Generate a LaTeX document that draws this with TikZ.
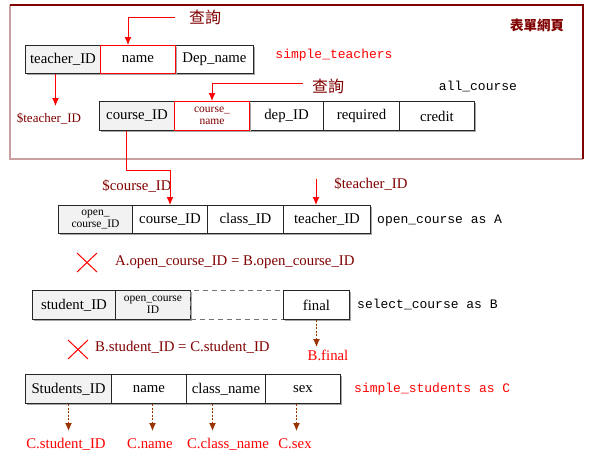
\documentclass[tikz,border=0pt]{standalone}
\usepackage{fontspec}
\setmainfont{Liberation Serif}
\newfontfamily\monof{Liberation Mono}
\newfontfamily\cjkf{Noto Sans CJK TC}
\usetikzlibrary{arrows.meta,shadows}
\definecolor{dred}{RGB}{128,0,0}
\definecolor{bred}{RGB}{255,0,0}
\definecolor{brn}{RGB}{153,51,0}
\definecolor{fpink}{RGB}{200,160,160}
\definecolor{cgray}{RGB}{242,242,242}
\begin{document}
\begin{tikzpicture}[x=1pt,y=-1pt,
  cell/.style={draw=black!85, line width=1pt, fill=white, inner sep=0pt, minimum height=28pt,
    anchor=north west, font=\fontsize{14.8}{16}\selectfont,
    drop shadow={shadow xshift=1pt,shadow yshift=-1pt,fill=black!35,opacity=1}},
  keycell/.style={cell, fill=cgray},
  redcell/.style={cell, draw=bred},
  blankcell/.style={draw=black!55, line width=1pt, dashed, dash pattern=on 5pt off 4pt, inner sep=0pt,
    minimum height=28pt, anchor=north west},
  small/.style={font=\fontsize{11.5}{11.5}\selectfont, align=center},
  lbl/.style={font=\fontsize{14.8}{16}\selectfont, text=dred, inner sep=0pt},
  rlbl/.style={font=\fontsize{14.8}{16}\selectfont, text=bred, inner sep=0pt},
  monot/.style={font=\monof\fontsize{13}{15}\selectfont, inner sep=0pt},
  cjkt/.style={font=\cjkf\fontsize{16}{18}\selectfont, text=dred, inner sep=0pt},
  rarrow/.style={draw=bred, line width=1pt, -{Latex[length=8pt,width=7pt]}},
  barrow/.style={draw=brn, line width=1pt, dash pattern=on 2pt off 1.5pt, -{Latex[length=8pt,width=7pt]}},
  xmark/.style={draw=bred, line width=1pt}
]
\useasboundingbox (0,0) rectangle (598,472);
% frame
\draw[fpink, line width=2pt] (10,5) -- (10,159) -- (583,159);
\draw[dred, line width=1.2pt] (10,5) -- (583,5) -- (583,159);

% texts in frame
\node[cjkt] (q1) at (205,17) {查詢};
\node[cjkt, font=\cjkf\bfseries\fontsize{13.5}{15}\selectfont] (form) at (537,25) {表單網頁};
\node[monot, text=bred] (stname) at (334,55) {simple\_teachers};
\node[cjkt] (q2) at (328,86) {查詢};
\node[monot] (acname) at (478,86) {all\_course};

% simple_teachers
\node[keycell, minimum width=75pt] (t-id) at (25,45) {teacher\_ID};
\node[cell, minimum width=78pt] (t-dep) at (175,45) {Dep\_name};
\node[redcell, minimum width=75pt] (t-name) at (100,45) {name};

% all_course
\node[keycell, minimum width=75pt, minimum height=29pt] (c-id) at (99,101) {course\_ID};
\node[cell, minimum width=74pt, minimum height=29pt] (c-dep) at (249,101) {dep\_ID};
\node[cell, minimum width=76pt, minimum height=29pt] (c-req) at (323,101) {required};
\node[cell, minimum width=75pt, minimum height=29pt] (c-cred) at (399,101) {credit};
\node[redcell, minimum width=75pt, minimum height=29pt, small, text=dred] (c-name) at (174,101) {course\_\\name};

% labels
\node[lbl, font=\fontsize{13}{14}\selectfont] (tl1) at (49,119) {\$teacher\_ID};
\node[lbl] (cl1) at (137,186) {\$course\_ID};
\node[lbl] (tl2) at (371,184) {\$teacher\_ID};

% open_course
\node[keycell, minimum width=74pt, small] (o-ocid) at (58,205) {open\_\\course\_ID};
\node[cell, minimum width=75pt] (o-cid) at (132,205) {course\_ID};
\node[cell, minimum width=76pt] (o-clid) at (207,205) {class\_ID};
\node[cell, minimum width=87pt] (o-tid) at (283,205) {teacher\_ID};
\node[monot, anchor=west] (ocname) at (377,221) {open\_course as A};

% join 1
\draw[xmark] (77,253) -- (97,272) (97,253) -- (77,272);
\node[lbl, anchor=west] (eq1) at (115,262) {A.open\_course\_ID = B.open\_course\_ID};

% select_course
\node[keycell, minimum width=83pt, minimum height=29pt] (s-sid) at (32,290) {student\_ID};
\node[keycell, minimum width=75pt, minimum height=29pt, small] (s-ocid) at (115,290) {open\_course\\ID};
\node[blankcell, minimum width=93pt, minimum height=29pt] (s-blank) at (190,290) {};
\node[cell, minimum width=66pt, minimum height=29pt] (s-final) at (283,290) {final};
\node[monot, anchor=west] (scname) at (357,304) {select\_course as B};
\node[rlbl] (bfin) at (328,355) {B.final};

% join 2
\draw[xmark] (68,340) -- (88,359) (88,340) -- (68,359);
\node[lbl, anchor=west] (eq2) at (95,347) {B.student\_ID = C.student\_ID};

% simple_students
\node[keycell, minimum width=86pt, minimum height=29pt] (st-id) at (25,374) {Students\_ID};
\node[cell, minimum width=75pt, minimum height=29pt] (st-name) at (111,374) {name};
\node[cell, minimum width=79pt, minimum height=29pt] (st-class) at (186,374) {class\_name};
\node[cell, minimum width=75pt, minimum height=29pt] (st-sex) at (265,374) {sex};
\node[monot, text=bred, anchor=west] (ssname) at (354,389) {simple\_students as C};

\node[rlbl] (l-id) at (66,444) {C.student\_ID};
\node[rlbl] (l-name) at (150,444) {C.name};
\node[rlbl] (l-class) at (228,444) {C.class\_name};
\node[rlbl] (l-sex) at (295,444) {C.sex};

% arrows
\draw[rarrow] (175,17) -| ([xshift=-10pt]t-name.north);
\draw[rarrow] ([xshift=-9pt]q2.west |- 0,83) -| (c-name.north);
\draw[rarrow] ([xshift=-7.5pt]t-id.south) -- ++(0,32);
\draw[rarrow] ([xshift=-10.5pt]c-id.south) -- ++(0,39) -| (o-cid.north);
\coordinate (tt) at (316,179);
\draw[rarrow] (tt) -- (tt |- o-tid.north);
\draw[barrow] (s-final.south) -- ++(0,27);
\draw[barrow] (st-id.south) -- ++(0,27);
\draw[barrow] ([xshift=3.5pt]st-name.south) -- ++(0,27);
\draw[barrow] ([xshift=-13.5pt]st-class.south) -- ++(0,27);
\draw[barrow] ([xshift=-6.5pt]st-sex.south) -- ++(0,27);
\end{tikzpicture}
\end{document}
